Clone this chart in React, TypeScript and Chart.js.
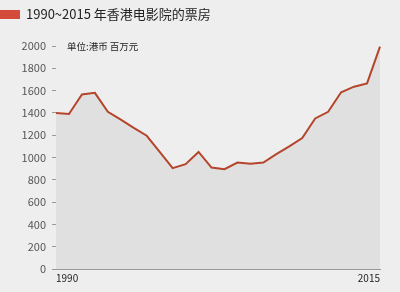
import React, { useEffect, useRef } from "react";
import { Chart, registerables } from "chart.js";

Chart.register(...registerables);

const years = [
  "1990", "1991", "1992", "1993", "1994", "1995", "1996", "1997", "1998", "1999",
  "2000", "2001", "2002", "2003", "2004", "2005", "2006", "2007", "2008", "2009",
  "2010", "2011", "2012", "2013", "2014", "2015",
];
const boxOffice = [
  1400, 1390, 1565, 1580, 1410, 1340, 1265, 1195, 1050, 905,
  940, 1050, 910, 895, 955, 945, 955, 1030, 1100, 1175,
  1350, 1410, 1585, 1635, 1665, 1995,
];
const yTicks = [0, 200, 400, 600, 800, 1000, 1200, 1400, 1600, 1800, 2000];
const shownXLabels = ["1990", "2015"];
const titleText = "1990~2015 年香港电影院的票房";
const unitText = "单位:港币 百万元";

const FONT = "'Noto Sans CJK SC', 'Noto Sans', sans-serif";

export default function App() {
  const ref = useRef<HTMLCanvasElement | null>(null);

  useEffect(() => {
    document.body.style.margin = "0";
    document.body.style.background = "#eeeeee";
    const canvas = ref.current;
    if (!canvas) return;
    const chart = new Chart(canvas, {
      type: "line",
      data: {
        labels: years,
        datasets: [
          {
            data: boxOffice,
            borderColor: "#b4452b",
            borderWidth: 2,
            pointRadius: 0,
            tension: 0,
            fill: "origin",
            backgroundColor: "rgba(0,0,0,0.055)",
          },
        ],
      },
      options: {
        responsive: false,
        animation: false,
        layout: { padding: { top: 46, right: 20, left: 0, bottom: 0 } },
        plugins: {
          legend: { display: false },
          tooltip: { enabled: false },
        },
        scales: {
          x: {
            grid: { display: false, drawTicks: false },
            border: { display: true, color: "#9a9a9a", width: 1 },
            ticks: {
              autoSkip: false,
              maxRotation: 0,
              align: "inner",
              padding: 3,
              color: "#222",
              font: { family: FONT, size: 10 },
              callback: function (this: any, value: any) {
                const lab = years[value as number];
                return shownXLabels.includes(lab) ? lab : "";
              },
            },
            afterFit: (scale: any) => {
              scale.height = 23;
            },
          },
          y: {
            min: 0,
            max: 2000,
            afterBuildTicks: (scale: any) => {
              scale.ticks = yTicks.map((v) => ({ value: v }));
            },
            grid: {
              drawOnChartArea: false,
              drawTicks: true,
              tickLength: 4,
              tickColor: "#999",
            },
            border: { display: false },
            ticks: {
              padding: 6,
              color: "#555",
              font: { family: FONT, size: 11 },
              callback: (value: any) => String(value),
            },
            afterFit: (scale: any) => {
              scale.width = 56;
            },
          },
        },
      },
    });
    return () => chart.destroy();
  }, []);

  return (
    <div
      style={{
        position: "relative",
        width: 400,
        height: 292,
        background: "#eeeeee",
        overflow: "hidden",
      }}
    >
      <canvas ref={ref} width={400} height={292} style={{ display: "block" }} />
      <div
        style={{
          position: "absolute",
          left: 0,
          top: 10,
          width: 20,
          height: 9,
          background: "#d54b3b",
        }}
      />
      <div
        style={{
          position: "absolute",
          left: 26,
          top: 4,
          fontFamily: FONT,
          fontSize: 13,
          lineHeight: "20px",
          color: "#222",
          whiteSpace: "nowrap",
        }}
      >
        {titleText}
      </div>
      <div
        style={{
          position: "absolute",
          left: 67,
          top: 39,
          fontFamily: FONT,
          fontSize: 9.5,
          lineHeight: "14px",
          color: "#222",
          whiteSpace: "nowrap",
        }}
      >
        {unitText}
      </div>
    </div>
  );
}
